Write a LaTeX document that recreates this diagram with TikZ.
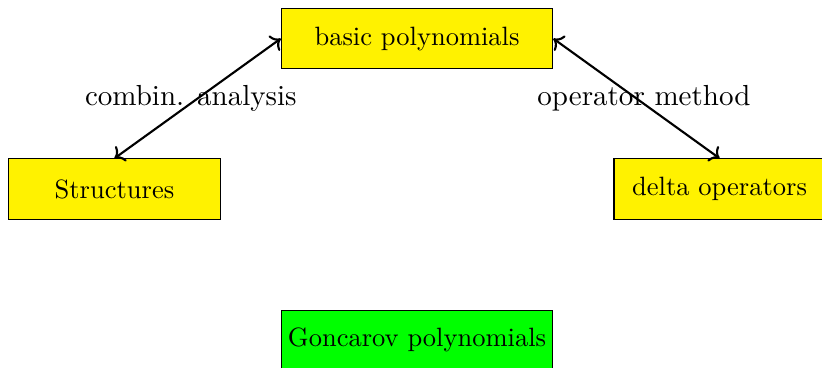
\documentclass[tikz,border=0pt,11pt]{standalone}
\usepackage{tikz}
\usetikzlibrary{arrows.meta}

\begin{document}
\begin{tikzpicture}[
  box/.style={rectangle, draw=black, fill=yellow, font=\small,
    minimum width=3.6cm, minimum height=0.8cm, inner xsep=2pt, align=center},
  smallbox/.style={box, minimum width=2.8cm},
  gbox/.style={box, fill=green},
  link/.style={<->, thick},
  lbl/.style={midway, font=\normalsize},
]
  \useasboundingbox (0,0) rectangle (10.90,4.867);
  % top and middle row
  \node[box] (basic) at (5.530,4.355) {basic polynomials};
  \node[smallbox] (struct) at (1.518,2.360) {Structures};
  \node[smallbox] (delta) at (9.542,2.360) {delta operators};
  % bottom
  \node[gbox] (gonc) at (5.530,0.355) {Goncarov polynomials};
  % links
  \draw[link] (basic.west) -- (struct.north) node[lbl, xshift=-0.09cm] {combin. analysis};
  \draw[link] (basic.east) -- (delta.north) node[lbl, xshift=0.10cm] {operator method};
\end{tikzpicture}
\end{document}
